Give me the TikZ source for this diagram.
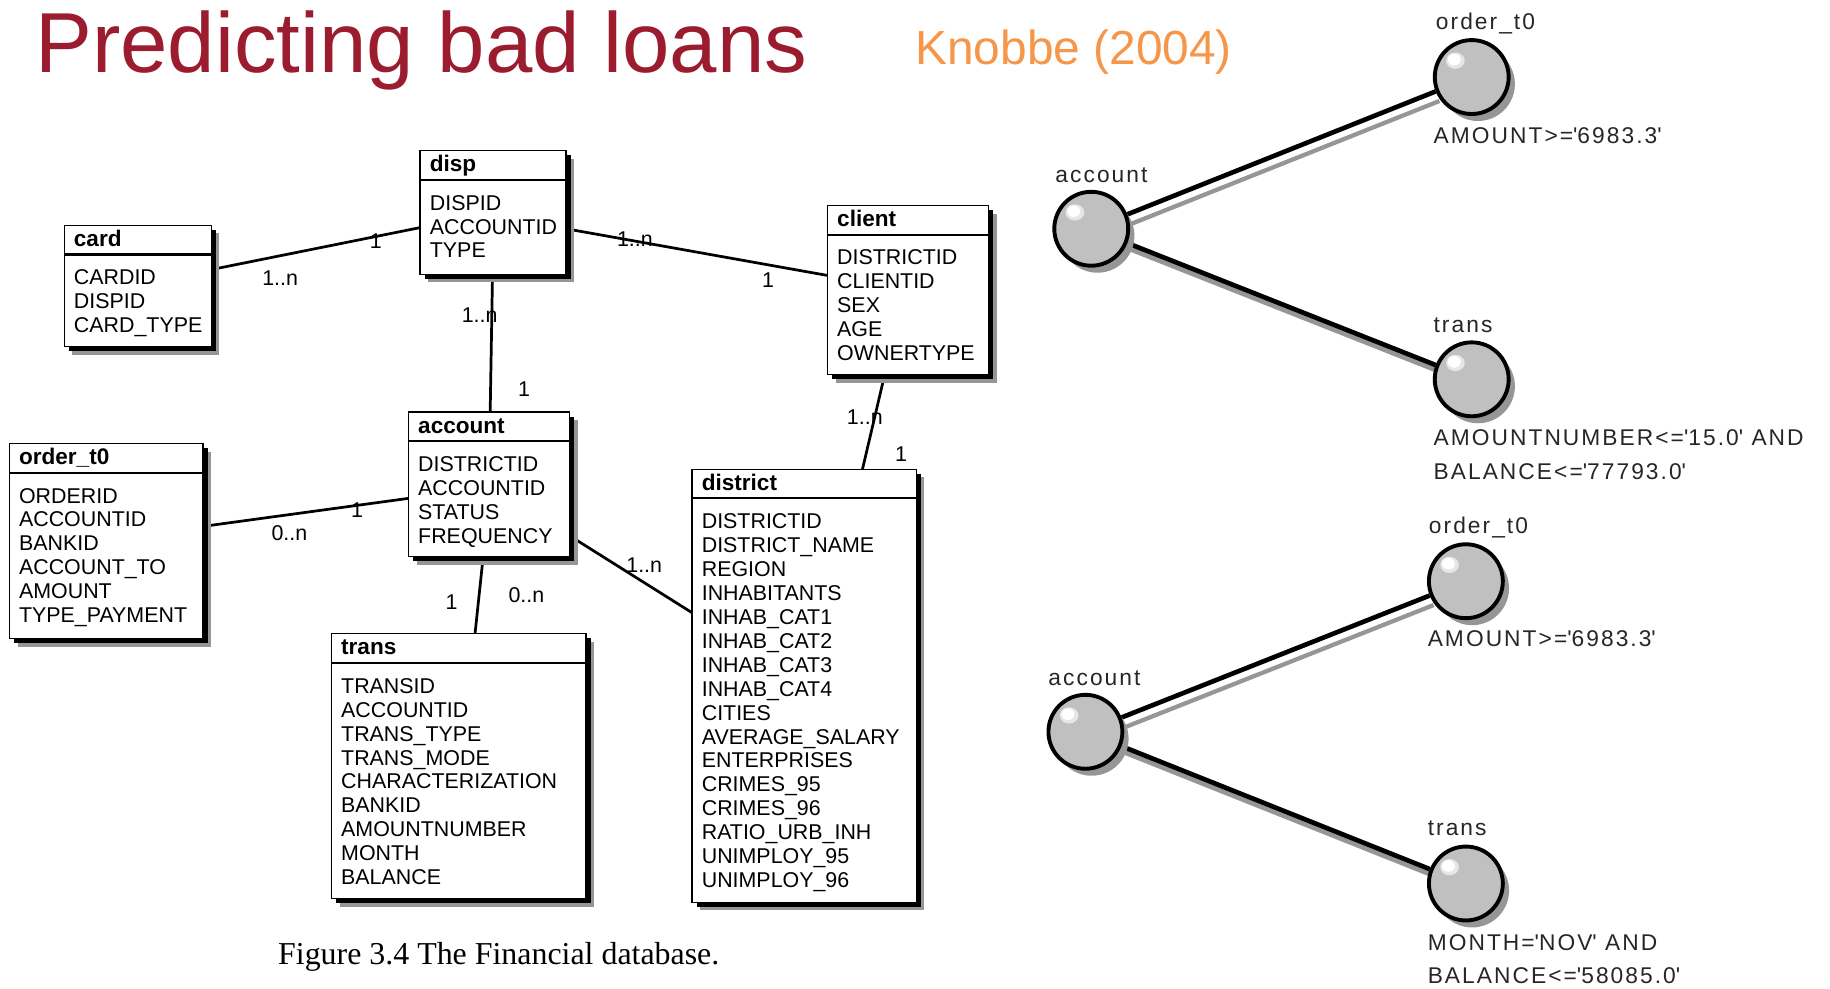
\documentclass[tikz,border=0pt]{standalone}
\usepackage{fontspec}
\setmainfont{Liberation Sans}
\newfontfamily\capfont{Liberation Serif}
\newfontfamily\graphfont[LetterSpace=9]{Liberation Sans}
\usetikzlibrary{shadows,calc,backgrounds}
\definecolor{titlered}{RGB}{155,28,46}
\definecolor{knorange}{RGB}{245,150,72}
\definecolor{ballgray}{RGB}{192,192,192}
\definecolor{shadowgray}{RGB}{150,150,150}
\tikzset{
 tbl/.style={draw=black, line width=0.7pt, fill=white, inner sep=0pt, outer sep=0pt, anchor=north west,
   general shadow={fill=shadowgray, shadow xshift=4.2pt, shadow yshift=-4.2pt},
   general shadow={fill=black, shadow xshift=2.4pt, shadow yshift=-2.4pt}},
 hdr/.style={font=\fontsize{11.6}{13}\selectfont\bfseries, inner sep=0pt, anchor=base west},
 attr/.style={font=\fontsize{11}{12.3}\selectfont, inner sep=0pt, anchor=base west},
 mult/.style={font=\fontsize{11}{12.3}\selectfont, inner sep=0pt},
 rel/.style={line width=1.4pt},
 ball/.style={circle, draw=black, line width=2pt, fill=ballgray, minimum size=38pt, inner sep=0pt,
   general shadow={fill=shadowgray, shadow xshift=3.2pt, shadow yshift=-3.6pt}},
 glabel/.style={font=\graphfont\fontsize{11.7}{13}\selectfont, inner sep=0pt, anchor=base west, text=black!85},
 gedge/.style={line width=2.4pt, black},
 gshade/.style={line width=2.2pt, shadowgray},
}
\newcommand\ertab[7]{%
  \node[tbl, minimum width=#4*0.6pt, minimum height={(#5-#3)*0.6pt}] (#1) at (#2,#3) {};
  \draw[line width=1.1pt] ($(#1.north west)+(0,25)$) -- ($(#1.north east)+(0,25)$);
  \node[hdr] (#1-title) at ($(#1.north west)+(8,18)$) {#6};
  \foreach \a [count=\i from 0] in {#7}{
    \node[attr] (#1-a\i) at ($(#1.north west)+(8,{51+20.5*\i})$) {\a};
  }
}
\newcommand\q{\textquotesingle}
\begin{document}
\begin{tikzpicture}[x=0.6pt,y=-0.6pt]
\useasboundingbox (0,0) rectangle (1568,847);
% titles
\node[inner sep=0pt, anchor=base west, text=titlered, font=\fontsize{43.8}{50}\selectfont] (title) at (30,62) {Predicting bad loans};
\node[inner sep=0pt, anchor=base west, text=knorange, font=\fontsize{24.6}{28}\selectfont] (author) at (784,55) {Knobbe (2004)};
\node[inner sep=0pt, anchor=base west, font=\capfont\fontsize{16.4}{19}\selectfont] (caption) at (238,826) {Figure 3.4 The Financial database.};
% tables
\ertab{card}{55}{193}{126}{297}{card}{CARDID,DISPID,CARD\_TYPE}
\ertab{disp}{360}{129}{125}{235}{disp}{DISPID,ACCOUNTID,TYPE}
\ertab{client}{709}{176}{138}{321}{client}{DISTRICTID,CLIENTID,SEX,AGE,OWNERTYPE}
\ertab{account}{350}{353}{138}{477}{account}{DISTRICTID,ACCOUNTID,STATUS,FREQUENCY}
\ertab{ordert}{8}{380}{166}{547}{order\_t0}{ORDERID,ACCOUNTID,BANKID,ACCOUNT\_TO,AMOUNT,TYPE\_PAYMENT}
\ertab{trans}{284}{543}{218}{770}{trans}{TRANSID,ACCOUNTID,TRANS\_TYPE,TRANS\_MODE,CHARACTERIZATION,BANKID,AMOUNTNUMBER,MONTH,BALANCE}
\ertab{district}{593}{402}{192}{773}{district}{DISTRICTID,DISTRICT\_NAME,REGION,INHABITANTS,INHAB\_CAT1,INHAB\_CAT2,INHAB\_CAT3,INHAB\_CAT4,CITIES,AVERAGE\_SALARY,ENTERPRISES,CRIMES\_95,CRIMES\_96,RATIO\_URB\_INH,UNIMPLOY\_95,UNIMPLOY\_96}
% relations
\begin{pgfonlayer}{background}
 \draw[rel] ($(card.north east)+(0,38)$) -- ($(disp.north west)+(0,66)$);
 \draw[rel] ($(disp.north east)+(0,67)$) -- ($(client.north west)+(0,60)$);
 \draw[rel] ($(disp.south west)+(62,0)$) -- ($(account.north west)+(70,0)$);
 \draw[rel] ($(client.south west)+(49,0)$) -- ($(district.north west)+(146,0)$);
 \draw[rel] ($(ordert.north east)+(0,71)$) -- ($(account.north west)+(0,74)$);
 \draw[rel] ($(account.south west)+(64,0)$) -- ($(trans.north west)+(123,0)$);
 \draw[rel] ($(account.north east)+(0,106)$) -- ($(district.north west)+(0,123)$);
\end{pgfonlayer}
\node[mult] (m1) at (240,238) {1..n};
\node[mult] (m2) at (322,207) {1};
\node[mult] (m3) at (544,205) {1..n};
\node[mult] (m4) at (658,240) {1};
\node[mult] (m5) at (411,270) {1..n};
\node[mult] (m6) at (449,333) {1};
\node[mult] (m7) at (741,357) {1..n};
\node[mult] (m8) at (772,389) {1};
\node[mult] (m9) at (248,457) {0..n};
\node[mult] (m10) at (306,437) {1};
\node[mult] (m11) at (387,516) {1};
\node[mult] (m12) at (451,510) {0..n};
\node[mult] (m13) at (552,484) {1..n};
% graphs
\node[ball] (gA1) at (935,196) {};
\node[ball] (gO1) at (1261,66) {};
\node[ball] (gT1) at (1261,325) {};
\node[ball] (gA2) at (930,627) {};
\node[ball] (gO2) at (1256,498) {};
\node[ball] (gT2) at (1256,757) {};
\foreach \b in {gA1,gO1,gT1,gA2,gO2,gT2}{
  \fill[white!60!ballgray] ($(\b)+(-14,-14)$) ellipse [x radius=8, y radius=7];
  \fill[white] ($(\b)+(-15,-15)$) ellipse [x radius=5.5, y radius=5];
}
\begin{pgfonlayer}{background}
 \draw[gshade, transform canvas={xshift=2pt, yshift=-4.9pt}] (gA1) -- (gO1);
 \draw[gedge] (gA1) -- (gO1);
 \draw[gshade, line width=3pt, transform canvas={xshift=0.4pt, yshift=-2.4pt}] (gA1) -- (gT1);
 \draw[gedge] (gA1) -- (gT1);
 \draw[gshade, transform canvas={xshift=2pt, yshift=-4.9pt}] (gA2) -- (gO2);
 \draw[gedge] (gA2) -- (gO2);
 \draw[gshade, line width=3pt, transform canvas={xshift=0.4pt, yshift=-2.4pt}] (gA2) -- (gT2);
 \draw[gedge] (gA2) -- (gT2);
\end{pgfonlayer}
\node[glabel] (lA1) at (904,156) {account};
\node[glabel] (lO1) at (1230,25) {order\_t0};
\node[glabel] (cO1) at (1228,123) {AMOUNT>=\q 6983.3\q};
\node[glabel] (lT1) at (1228,285) {trans};
\node[glabel] (cT1a) at (1228,382) {AMOUNTNUMBER<=\q 15.0\q\ AND};
\node[glabel] (cT1b) at (1228,411) {BALANCE<=\q 77793.0\q};
\node[glabel] (lA2) at (898,587) {account};
\node[glabel] (lO2) at (1224,457) {order\_t0};
\node[glabel] (cO2) at (1223,554) {AMOUNT>=\q 6983.3\q};
\node[glabel] (lT2) at (1223,716) {trans};
\node[glabel] (cT2a) at (1223,814) {MONTH=\q NOV\q\ AND};
\node[glabel] (cT2b) at (1223,843) {BALANCE<=\q 58085.0\q};
\end{tikzpicture}
\end{document}
